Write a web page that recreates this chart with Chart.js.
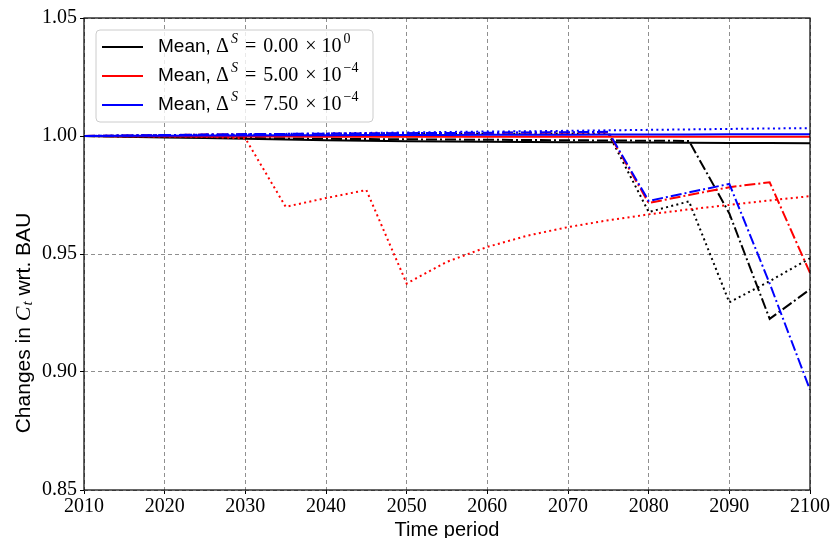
<!DOCTYPE html>
<html>
<head>
<meta charset="utf-8">
<script src="https://cdn.jsdelivr.net/npm/chart.js@4/dist/chart.umd.min.js"></script>
<style>
  html, body { margin: 0; padding: 0; background: #fff; }
  #wrap { width: 832px; height: 538px; position: relative; }
</style>
</head>
<body>
<div id="wrap"><canvas id="c" width="832" height="538"></canvas></div>
<script>
// Time axis (5-year steps) and tick values
const years = [2010, 2015, 2020, 2025, 2030, 2035, 2040, 2045, 2050, 2055,
               2060, 2065, 2070, 2075, 2080, 2085, 2090, 2095, 2100];
const xTicks = [2010, 2020, 2030, 2040, 2050, 2060, 2070, 2080, 2090, 2100];
const yTicks = [0.85, 0.90, 0.95, 1.00, 1.05];

// Damage-rate scenarios shown in the legend
const deltaS = [0, 5.0e-4, 7.5e-4];

// Consumption relative to BAU, Δ^S = 0
const blackMean    = [1.0000, 0.9997, 0.9994, 0.9991, 0.9988, 0.9985, 0.9982, 0.9980, 0.9978, 0.9977,
                      0.9976, 0.9975, 0.9974, 0.9973, 0.9972, 0.9971, 0.9970, 0.9970, 0.9969];
const blackDotted  = [1.0000, 1.0001, 1.0002, 1.0003, 1.0004, 1.0005, 1.0006, 1.0007, 1.0008, 1.0009,
                      1.0010, 1.0010, 1.0011, 1.0011, 0.9678, 0.9723, 0.9295, 0.9385, 0.9482];
const blackDashDot = [1.0000, 0.9998, 0.9996, 0.9994, 0.9992, 0.9990, 0.9988, 0.9987, 0.9986, 0.9985,
                      0.9984, 0.9983, 0.9982, 0.9981, 0.9980, 0.9979, 0.9672, 0.9225, 0.9350];

// Δ^S = 5.00e-4
const redMean      = [1.0000, 0.9999, 0.9999, 0.9998, 0.9998, 0.9998, 0.9997, 0.9997, 0.9997, 0.9997,
                      0.9997, 0.9997, 0.9997, 0.9997, 0.9997, 0.9997, 0.9997, 0.9997, 0.9997];
const redDotted    = [1.0000, 0.9999, 0.9998, 0.9997, 0.9990, 0.9700, 0.9737, 0.9771, 0.9375, 0.9467,
                      0.9530, 0.9578, 0.9614, 0.9643, 0.9668, 0.9689, 0.9708, 0.9727, 0.9745];
const redDashDot   = [1.0000, 1.0002, 1.0004, 1.0006, 1.0007, 1.0008, 1.0009, 1.0010, 1.0011, 1.0012,
                      1.0013, 1.0014, 1.0014, 1.0015, 0.9716, 0.9750, 0.9783, 0.9804, 0.9420];

// Δ^S = 7.50e-4
const blueMean     = [1.0000, 1.0001, 1.0001, 1.0002, 1.0002, 1.0003, 1.0003, 1.0004, 1.0004, 1.0004,
                      1.0005, 1.0005, 1.0005, 1.0006, 1.0006, 1.0006, 1.0007, 1.0007, 1.0007];
const blueDotted   = [1.0000, 1.0002, 1.0004, 1.0006, 1.0007, 1.0009, 1.0011, 1.0013, 1.0015, 1.0017,
                      1.0019, 1.0020, 1.0022, 1.0024, 1.0026, 1.0028, 1.0030, 1.0032, 1.0033];
const blueDashDot  = [1.0000, 1.0002, 1.0004, 1.0006, 1.0008, 1.0009, 1.0010, 1.0011, 1.0012, 1.0013,
                      1.0014, 1.0015, 1.0016, 1.0018, 0.9725, 0.9761, 0.9797, 0.9375, 0.8925];

const SANS = '"Liberation Sans", Arial, sans-serif';
const SERIF = '"Liberation Serif", "DejaVu Serif", serif';
const DOT = [2, 3.3];
const DASHDOT = [11, 3, 2, 3];

function series(label, vals, color, dash, isMean) {
  return {
    label: label,
    data: years.map((yr, i) => ({ x: yr, y: vals[i] })),
    borderColor: color,
    backgroundColor: color,
    borderWidth: 2,
    borderDash: dash,
    borderCapStyle: 'butt',
    pointRadius: 0,
    tension: 0,
    fill: false,
    isMean: isMean
  };
}

// Index 0 is painted last, so the blue scenario sits on top.
const datasets = [
  series('blue dash-dot', blueDashDot, '#0000ff', DASHDOT, false),
  series('blue dotted', blueDotted, '#0000ff', DOT, false),
  series('mean 2', blueMean, '#0000ff', [], true),
  series('red dash-dot', redDashDot, '#ff0000', DASHDOT, false),
  series('red dotted', redDotted, '#ff0000', DOT, false),
  series('mean 1', redMean, '#ff0000', [], true),
  series('black dash-dot', blackDashDot, '#000000', DASHDOT, false),
  series('black dotted', blackDotted, '#000000', DOT, false),
  series('mean 0', blackMean, '#000000', [], true)
];

function drawParts(ctx, x, y, parts) {
  for (const p of parts) {
    ctx.font = p.font;
    x += p.pre || 0;
    ctx.fillText(p.t, x, y + (p.dy || 0));
    x += ctx.measureText(p.t).width + (p.post || 0);
  }
  return x;
}
function partsWidth(ctx, parts) {
  let w = 0;
  for (const p of parts) {
    ctx.font = p.font;
    w += (p.pre || 0) + ctx.measureText(p.t).width + (p.post || 0);
  }
  return w;
}

function sciParts(v) {
  let exp = 0, mant = 0;
  if (v !== 0) {
    exp = Math.floor(Math.log10(Math.abs(v)));
    mant = v / Math.pow(10, exp);
  }
  const expStr = exp < 0 ? '\u2212' + Math.abs(exp) : String(exp);
  return [
    { t: 'Mean, ', font: '19px ' + SANS },
    { t: '\u0394', font: '20px ' + SERIF },
    { t: 'S', font: 'italic 14px ' + SERIF, dy: -8, pre: 2 },
    { t: '=', font: '20px ' + SERIF, pre: 7, post: 7 },
    { t: mant.toFixed(2), font: '20px ' + SERIF },
    { t: '\u00d7', font: '20px ' + SERIF, pre: 7, post: 5 },
    { t: '10', font: '20px ' + SERIF },
    { t: expStr, font: '14px ' + SERIF, dy: -8, pre: 2 }
  ];
}

const decorations = {
  id: 'decorations',
  afterDatasetsDraw(chart) {
    const { ctx, chartArea: a } = chart;
    ctx.save();
    // frame around the plotting area
    ctx.strokeStyle = '#000';
    ctx.lineWidth = 1.2;
    ctx.setLineDash([]);
    ctx.strokeRect(a.left, a.top, a.right - a.left, a.bottom - a.top);

    // legend
    const lx = 96, ly = 30, lw = 277, lh = 92, r = 4;
    ctx.beginPath();
    ctx.moveTo(lx + r, ly);
    ctx.arcTo(lx + lw, ly, lx + lw, ly + lh, r);
    ctx.arcTo(lx + lw, ly + lh, lx, ly + lh, r);
    ctx.arcTo(lx, ly + lh, lx, ly, r);
    ctx.arcTo(lx, ly, lx + lw, ly, r);
    ctx.closePath();
    ctx.fillStyle = 'rgba(255,255,255,0.8)';
    ctx.fill();
    ctx.strokeStyle = '#cccccc';
    ctx.lineWidth = 1;
    ctx.stroke();

    const means = chart.data.datasets.filter(d => d.isMean)
      .sort((p, q) => p.label.localeCompare(q.label));
    const rows = [47, 76, 105];
    means.forEach((d, i) => {
      const y = rows[i];
      ctx.strokeStyle = d.borderColor;
      ctx.lineWidth = 2;
      ctx.beginPath();
      ctx.moveTo(102, y);
      ctx.lineTo(143, y);
      ctx.stroke();
      ctx.fillStyle = '#000';
      ctx.textBaseline = 'middle';
      ctx.textAlign = 'left';
      drawParts(ctx, 158, y, sciParts(deltaS[i]));
    });

    // axis titles
    ctx.fillStyle = '#000';
    ctx.textBaseline = 'middle';
    ctx.textAlign = 'center';
    ctx.font = '20px ' + SANS;
    ctx.fillText('Time period', (a.left + a.right) / 2, 530);

    const yt = [
      { t: 'Changes in ', font: '21px ' + SANS },
      { t: 'C', font: 'italic 22px ' + SERIF },
      { t: 't', font: 'italic 15px ' + SERIF, dy: 4, pre: 1 },
      { t: ' wrt. BAU', font: '21px ' + SANS }
    ];
    ctx.translate(24, 323);
    ctx.rotate(-Math.PI / 2);
    ctx.textAlign = 'left';
    const w = partsWidth(ctx, yt);
    drawParts(ctx, -w / 2, 0, yt);
    ctx.restore();
  }
};

new Chart(document.getElementById('c'), {
  type: 'line',
  data: { datasets: datasets },
  plugins: [decorations],
  options: {
    responsive: false,
    animation: false,
    events: [],
    layout: { padding: { left: 0, top: 18, right: 22, bottom: 0 } },
    plugins: { legend: { display: false }, tooltip: { enabled: false } },
    scales: {
      x: {
        type: 'linear',
        min: xTicks[0],
        max: xTicks[xTicks.length - 1],
        afterBuildTicks: s => { s.ticks = xTicks.map(v => ({ value: v })); },
        afterFit: s => { s.height = 48; },
        ticks: {
          font: { family: SERIF, size: 20 },
          color: '#000',
          padding: 1,
          maxRotation: 0,
          autoSkip: false,
          callback: v => String(v)
        },
        grid: {
          color: '#8f8f8f',
          lineWidth: 1,
          tickLength: 4,
          tickColor: '#000',
          tickWidth: 1,
          tickBorderDash: []
        },
        border: { display: false, dash: [4, 3] }
      },
      y: {
        type: 'linear',
        min: yTicks[0],
        max: yTicks[yTicks.length - 1],
        afterBuildTicks: s => { s.ticks = yTicks.map(v => ({ value: v })); },
        afterFit: s => { s.width = 84; },
        ticks: {
          font: { family: SERIF, size: 20 },
          color: '#000',
          padding: 3,
          autoSkip: false,
          callback: v => Number(v).toFixed(2)
        },
        grid: {
          color: '#8f8f8f',
          lineWidth: 1,
          tickLength: 4,
          tickColor: '#000',
          tickWidth: 1,
          tickBorderDash: []
        },
        border: { display: false, dash: [4, 3] }
      }
    }
  }
});
</script>
</body>
</html>
